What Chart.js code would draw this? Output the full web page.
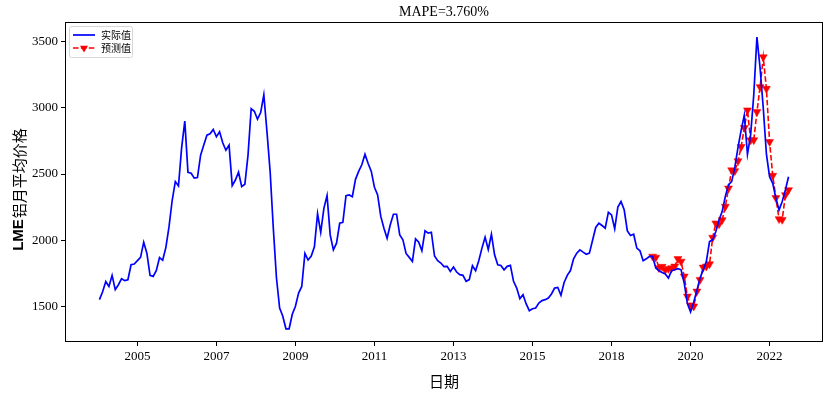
<!DOCTYPE html>
<html><head><meta charset="utf-8">
<script src="https://cdn.jsdelivr.net/npm/chart.js@4.4.1/dist/chart.umd.min.js"></script>
<style>html,body{margin:0;padding:0;background:#fff;overflow:hidden}#wrap{width:830px;height:395px}</style>
</head><body><div id="wrap"><canvas id="c" width="830" height="395"></canvas></div>
<script>
// ---- data ----
const actual = [
1550,1610,1688,1650,1734,1626,1663,1709,1694,1701,
1814,1820,1845,1870,1985,1902,1734,1726,1772,1868,
1848,1944,2100,2300,2443,2410,2700,2900,2513,2506,
2469,2474,2643,2719,2794,2804,2837,2782,2819,2737,
2680,2719,2413,2455,2514,2405,2423,2643,2995,2975,
2915,2965,3100,2819,2518,2090,1714,1487,1425,1330,
1330,1440,1500,1600,1650,1900,1850,1880,1950,2200,
2060,2241,2337,2040,1927,1977,2128,2135,2337,2342,
2329,2460,2520,2570,2650,2580,2520,2400,2342,2180,
2091,2015,2116,2196,2196,2040,2003,1900,1870,1839,
2010,1985,1920,2071,2053,2060,1880,1845,1827,1800,
1802,1764,1797,1759,1739,1734,1689,1702,1807,1769,
1845,1940,2023,1930,2045,1889,1814,1809,1776,1802,
1809,1689,1638,1558,1588,1518,1467,1482,1487,1525,
1543,1550,1563,1593,1638,1643,1583,1680,1734,1770,
1859,1902,1927,1910,1894,1902,2000,2096,2128,2111,
2091,2211,2191,2086,2250,2292,2230,2070,2035,2045,
1940,1920,1844,1859,1877,1877,1790,1769,1755,1744,
1714,1769,1776,1784,1776,1676,1520,1457,1530,1620,
1714,1775,1839,1990,2003,2065,2153,2216,2330,2420,
2443,2550,2700,2830,2945,2650,2794,3100,3536,3300,
3000,2650,2480,2430,2317,2229,2292,2380,2480
];
const predicted = [
1877,1869,1790,1800,1776,1784,1789,1802,1859,1839,
1726,1575,1508,1500,1613,1701,1794,1802,1819,2020,
2128,2121,2153,2254,2392,2530,2523,2598,2706,2850,
2983,2757,2757,2970,3159,3385,3146,2744,2488,2320,
2160,2155,2342,2380
];
const predStart = 175;
const xTickIdx = [12,37,62,87,112,137,162,187,212];
const xTickLabels = ['2005','2007','2009','2011','2013','2015','2018','2020','2022'];
const yTicks = [1500,2000,2500,3000,3500];
const titleText = 'MAPE=3.760%';
const xTitle = '日期';
const yTitleLatin = 'LME';
const yTitleCJK = '铝月平均价格';
const seriesNames = ['实际值','预测值'];

const SERIF = "'Liberation Serif','Times New Roman',serif";
const CJK = "'Noto Sans CJK SC','Noto Sans',sans-serif";

const actualPts = actual.map((v,i)=>({x:i,y:v}));
const predPts = predicted.map((v,i)=>({x:predStart+i,y:v}));

const decor = {
  id:'decor',
  afterDatasetsDraw(chart){
    const {ctx, chartArea:a} = chart;
    ctx.save();
    ctx.strokeStyle='#000'; ctx.lineWidth=1;
    ctx.strokeRect(a.left+0.5, a.top+0.5, a.right-a.left-1, a.bottom-a.top-1);
    ctx.restore();
  },
  afterDraw(chart){
    const {ctx, chartArea:a} = chart;
    const cx = (a.left+a.right)/2;
    ctx.save();
    ctx.fillStyle='#000';
    ctx.textAlign='center'; ctx.textBaseline='middle';
    ctx.font = "14px "+SERIF;
    ctx.fillText(titleText, cx, 12);
    ctx.font = "15px "+CJK;
    ctx.fillText(xTitle, cx, 381);
    // y title
    ctx.save();
    ctx.translate(19, 190);
    ctx.rotate(-Math.PI/2);
    ctx.textAlign='left';
    const f1 = "bold 15px 'Liberation Sans',Arial,sans-serif";
    const f2 = "15px "+CJK;
    ctx.font=f1; const w1 = ctx.measureText(yTitleLatin).width;
    ctx.font=f2; const w2 = ctx.measureText(yTitleCJK).width;
    const start = -(w1+w2)/2;
    ctx.font=f1; ctx.fillText(yTitleLatin, start, 0);
    ctx.font=f2; ctx.fillText(yTitleCJK, start+w1+1, 0);
    ctx.restore();
    // legend
    const ds = chart.data.datasets;
    const lx=69, ly=26, lw=63, lh=31;
    ctx.beginPath();
    ctx.roundRect(lx+0.5, ly+0.5, lw, lh, 2);
    ctx.fillStyle='rgba(255,255,255,0.8)'; ctx.fill();
    ctx.strokeStyle='#d6d6d6'; ctx.lineWidth=1; ctx.stroke();
    const rows=[ly+9, ly+22];
    ctx.strokeStyle=ds[0].borderColor; ctx.lineWidth=ds[0].borderWidth;
    ctx.beginPath(); ctx.moveTo(73,rows[0]); ctx.lineTo(95,rows[0]); ctx.stroke();
    ctx.strokeStyle=ds[1].borderColor; ctx.lineWidth=ds[1].borderWidth; ctx.setLineDash(ds[1].borderDash);
    ctx.beginPath(); ctx.moveTo(73,rows[1]); ctx.lineTo(95,rows[1]); ctx.stroke();
    ctx.setLineDash([]);
    ctx.fillStyle=ds[1].pointBackgroundColor;
    Chart.helpers.drawPoint(ctx,{pointStyle:'triangle',rotation:180,radius:ds[1].pointRadius,borderWidth:0},84,rows[1]);
    ctx.fillStyle='#000'; ctx.textAlign='left';
    ctx.font="10px "+CJK;
    ctx.fillText(seriesNames[0], 101, rows[0]);
    ctx.fillText(seriesNames[1], 101, rows[1]);
    ctx.restore();
  }
};

new Chart(document.getElementById('c'), {
  type:'line',
  data:{datasets:[
    {label:seriesNames[0], data:actualPts, borderColor:'#0000ff', borderWidth:1.7,
     pointRadius:0, tension:0, fill:false},
    {label:seriesNames[1], data:predPts, borderColor:'#ff0000', borderWidth:1.6,
     borderDash:[5.5,2.4], pointStyle:'triangle', rotation:180, pointRadius:4.6,
     pointBackgroundColor:'#ff0000', pointBorderColor:'#ff0000', pointBorderWidth:0.5,
     tension:0, fill:false}
  ]},
  options:{
    responsive:false, animation:false, devicePixelRatio:1,
    layout:{padding:{top:22,right:7,left:0,bottom:0}},
    plugins:{legend:{display:false}, title:{display:false}, tooltip:{enabled:false}},
    scales:{
      x:{type:'linear', min:-10.9, max:228.9,
        afterBuildTicks(s){ s.ticks = xTickIdx.map(v=>({value:v})); },
        afterFit(s){ s.height = 53; },
        ticks:{autoSkip:false, maxRotation:0, padding:3, color:'#000',
          font:{family:SERIF,size:13},
          callback(v){ const k=xTickIdx.indexOf(v); return k>=0?xTickLabels[k]:''; }},
        grid:{display:true, drawOnChartArea:false, drawTicks:true, tickLength:4, color:'#000'},
        border:{display:false}
      },
      y:{type:'linear', min:1230, max:3650,
        afterBuildTicks(s){ s.ticks = yTicks.map(v=>({value:v})); },
        afterFit(s){ s.width = 65; },
        ticks:{padding:3, color:'#000', font:{family:SERIF,size:13},
          callback(v){ return String(v); }},
        grid:{display:true, drawOnChartArea:false, drawTicks:true, tickLength:4, color:'#000'},
        border:{display:false}
      }
    }
  },
  plugins:[decor]
});
</script>
</body></html>
